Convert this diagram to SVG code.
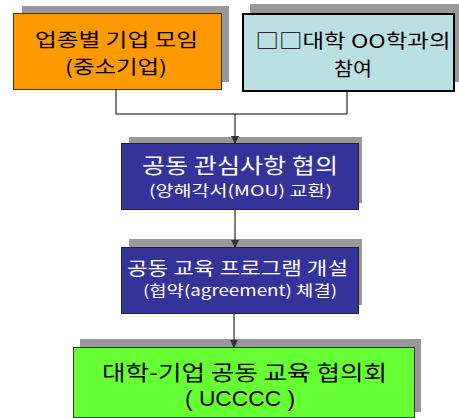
<svg xmlns="http://www.w3.org/2000/svg" width="459" height="418" viewBox="0 0 459 418">
<defs>
<style>
.sh{fill:#999999;}
.t{font-family:"Noto Sans CJK KR","Liberation Sans",sans-serif;text-anchor:middle;}
.l{font-family:"Liberation Sans","Noto Sans CJK KR",sans-serif;text-anchor:middle;}
.ln{stroke:#000;stroke-width:1;fill:none;}
</style>
<marker id="ah" markerWidth="8" markerHeight="8" refX="7" refY="4" orient="auto" markerUnits="userSpaceOnUse">
<path d="M0,0 L8,4 L0,8 z" fill="#333"/>
</marker>
</defs>
<rect width="459" height="418" fill="#fff"/>
<g id="n1">
<rect class="sh" x="22" y="6" width="207" height="76"/>
<rect x="13.5" y="13.5" width="208" height="76" fill="#FF9900" stroke="#333" stroke-width="1"/>
<text class="t" x="116.5" y="47" font-size="19" textLength="163" lengthAdjust="spacingAndGlyphs">업종별 기업 모임</text>
<text class="t" x="116" y="74" font-size="19" textLength="102" lengthAdjust="spacingAndGlyphs">(중소기업)</text>
</g>
<g id="n2">
<rect class="sh" x="250" y="4" width="209" height="78"/>
<rect x="243" y="14" width="211" height="77" fill="#BBE0E3" stroke="#000" stroke-width="2"/>
<text class="t" x="353" y="48" font-size="19" textLength="195" lengthAdjust="spacingAndGlyphs">□□대학 OO학과의</text>
<text class="t" x="353" y="76" font-size="19" textLength="38" lengthAdjust="spacingAndGlyphs">참여</text>
</g>
<g id="n3">
<rect class="sh" x="129" y="137" width="233" height="66"/>
<rect x="121.5" y="143.5" width="237" height="66" fill="#333399" stroke="#222" stroke-width="1"/>
<text class="t" x="240" y="173" font-size="21" fill="#fff" textLength="196" lengthAdjust="spacingAndGlyphs">공동 관심사항 협의</text>
<text class="t" x="240.5" y="196" font-size="15" fill="#fff" textLength="183" lengthAdjust="spacingAndGlyphs">(양해각서(MOU) 교환)</text>
</g>
<g id="n4">
<rect class="sh" x="129" y="239" width="233" height="66"/>
<rect x="121.5" y="247.5" width="237" height="66" fill="#333399" stroke="#222" stroke-width="1"/>
<text class="t" x="237.5" y="275" font-size="18" fill="#fff" textLength="221" lengthAdjust="spacingAndGlyphs">공동 교육 프로그램 개설</text>
<text class="t" x="240" y="296" font-size="15" fill="#fff" textLength="194" lengthAdjust="spacingAndGlyphs">(협약(agreement) 체결)</text>
</g>
<g id="n5">
<rect class="sh" x="80" y="339" width="341" height="73"/>
<rect x="73.5" y="347.5" width="341" height="70" fill="#66FF33" stroke="#333" stroke-width="1"/>
<text class="t" x="244.5" y="379.5" font-size="21" textLength="285" lengthAdjust="spacingAndGlyphs">대학-기업 공동 교육 협의회</text>
<text class="l" x="240" y="406" font-size="22" textLength="110" lengthAdjust="spacingAndGlyphs">( UCCCC )</text>
</g>
<g id="connectors">
<polyline class="ln" points="116,89 116,114 347,114 347,91"/>
<line class="ln" x1="235" y1="114" x2="235" y2="143" marker-end="url(#ah)"/>
<line class="ln" x1="235" y1="210" x2="235" y2="247" marker-end="url(#ah)"/>
<line class="ln" x1="234" y1="314" x2="234" y2="347" marker-end="url(#ah)"/>
</g>
</svg>
